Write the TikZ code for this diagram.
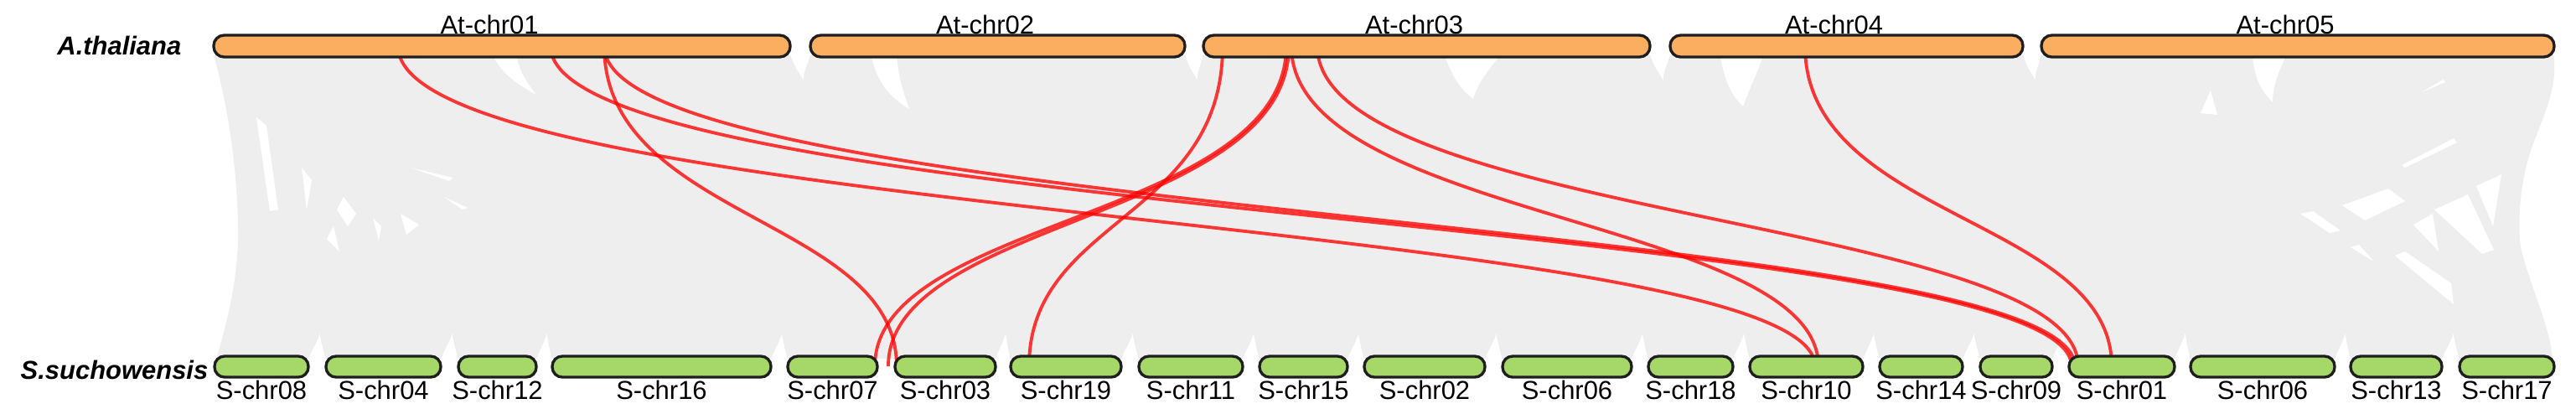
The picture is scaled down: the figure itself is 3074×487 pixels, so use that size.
\documentclass[tikz,border=0pt]{standalone}
\usepackage{fontspec}
\setmainfont{Liberation Sans}
\usetikzlibrary{calc}
\definecolor{bggray}{RGB}{238,238,238}
\definecolor{atorange}{RGB}{252,174,96}
\definecolor{sgreen}{RGB}{165,216,104}
\definecolor{barline}{RGB}{30,30,30}
\definecolor{linkred}{RGB}{255,0,0}
\newcommand\chrbar[5]{%
  \pgfmathsetmacro\chrcx{(#2+#3)/2}%
  \pgfmathsetmacro\chrcw{(#3-#2)*0.01}%
  \node[#5, minimum width=\chrcw cm] (#1) at (\chrcx,#4) {};}
\newcommand\toplabel[2]{\node[chrlabel] (#1l) at ($(#1.north)+(-15,0)$) {#2};}
\newcommand\botlabel[2]{\node[chrlabel] (#1l) at ($(#1.south)+(0,25)$) {#2};}
\newcommand\synlink[2]{\draw[link] (#1) .. controls ($(#1)+(0,206)$) and ($(#2)+(0,-176)$) .. (#2);}
\newcommand\topgap[2]{\fill[gapwhite] (#1,64) .. controls (#1+4,80) and ({(#1+#2)/2},88) .. ({(#1+#2)/2+4},96) .. controls ({(#1+#2)/2+3},85) and (#2-3,78) .. (#2,64) -- cycle;}
\newcommand\botgap[2]{\fill[gapwhite] (#1,430) .. controls (#1+3,418) and ({(#1+#2)/2},410) .. ({(#1+#2)/2+3},398) .. controls ({(#1+#2)/2+5},410) and (#2-3,418) .. (#2,430) -- cycle;}
\begin{document}
\begin{tikzpicture}[x=0.01cm,y=-0.01cm,
  atbar/.style={draw=barline, line width=0.95pt, fill=atorange, rounded corners=0.125cm, minimum height=0.26cm, inner sep=0pt},
  sbar/.style={draw=barline, line width=0.95pt, fill=sgreen, rounded corners=0.12cm, minimum height=0.25cm, inner sep=0pt},
  chrlabel/.style={font=\fontsize{8.8}{10}\selectfont, inner sep=0pt, anchor=base},
  species/.style={font=\fontsize{8.8}{10}\selectfont\bfseries\itshape, inner sep=0pt, anchor=base east},
  link/.style={draw=linkred, line width=1.1pt, opacity=0.78},
  gapwhite/.style={fill=white, draw=none},
]
\useasboundingbox (0,0) rectangle (3074,487);

% grey background of all collinear links
\fill[bggray] (255,66) -- (3048,66) -- (3048,90) .. controls (3044,125) and (3030,150) .. (3020,180)
  .. controls (3008,215) and (3004,260) .. (3008,295) .. controls (3020,345) and (3042,385) .. (3046,428)
  -- (258,428) .. controls (276,370) and (284,320) .. (284,280) .. controls (284,220) and (276,140) .. (255,66) -- cycle;

% white slivers between grey links
\topgap{943}{967}
\topgap{1414}{1436}
\topgap{1969}{1993}
\topgap{2414}{2436}
\botgap{368}{389}
\botgap{526}{547}
\botgap{640}{659}
\botgap{920}{940}
\botgap{1188}{1206}
\botgap{1338}{1359}
\botgap{1483}{1503}
\botgap{1608}{1628}
\botgap{1772}{1793}
\botgap{1947}{1967}
\botgap{2068}{2088}
\botgap{2223}{2243}
\botgap{2342}{2363}
\botgap{2449}{2469}
\botgap{2595}{2614}
\botgap{2786}{2805}
\botgap{2914}{2935}
\fill[gapwhite] (588,66) .. controls (600,90) and (620,102) .. (640,113) .. controls (628,98) and (620,85) .. (616,66) -- cycle;
\fill[gapwhite] (1040,66) .. controls (1046,100) and (1065,118) .. (1085,130) .. controls (1076,105) and (1072,90) .. (1070,66) -- cycle;
\fill[gapwhite] (1724,66) .. controls (1734,95) and (1745,108) .. (1758,118) .. controls (1764,98) and (1775,85) .. (1790,66) -- cycle;
\fill[gapwhite] (2053,66) .. controls (2058,100) and (2068,115) .. (2080,127) .. controls (2090,100) and (2098,85) .. (2104,66) -- cycle;
\fill[gapwhite] (2688,66) .. controls (2690,95) and (2700,110) .. (2712,122) .. controls (2712,100) and (2720,85) .. (2728,66) -- cycle;
\fill[gapwhite] (2626,135) -- (2638,108) -- (2646,137) -- cycle;
\fill[gapwhite] (306,140) -- (318,150) -- (332,250) -- (322,252) -- cycle;
\fill[gapwhite] (360,200) -- (372,215) -- (366,250) -- cycle;
\fill[gapwhite] (410,235) -- (425,255) -- (415,270) -- (402,250) -- cycle;
\fill[gapwhite] (478,255) -- (500,268) -- (485,280) -- cycle;
\fill[gapwhite] (390,285) -- (398,270) -- (405,300) -- cycle;
\fill[gapwhite] (445,260) -- (455,270) -- (452,287) -- cycle;
\fill[gapwhite] (490,200) -- (540,212) -- (536,216) -- cycle;
\fill[gapwhite] (530,235) -- (558,248) -- (552,250) -- cycle;
\fill[gapwhite] (2795,245) -- (2850,225) -- (2870,240) -- (2822,263) -- cycle;
\fill[gapwhite] (2880,268) -- (2903,255) -- (2910,300) -- cycle;
\fill[gapwhite] (2905,250) -- (2945,232) -- (2976,298) -- (2962,303) -- cycle;
\fill[gapwhite] (2858,305) -- (2870,300) -- (2925,338) -- (2928,363) -- cycle;
\fill[gapwhite] (2955,222) -- (2985,208) -- (2975,270) -- cycle;
\fill[gapwhite] (2866,197) -- (2928,165) -- (2932,170) -- (2870,200) -- cycle;
\fill[gapwhite] (2745,255) -- (2760,252) -- (2793,275) -- (2780,278) -- cycle;
\fill[gapwhite] (2805,295) -- (2815,292) -- (2833,312) -- cycle;
\fill[gapwhite] (2890,110) -- (2915,95) -- (2918,98) -- cycle;

% link end points
\coordinate (tA1a) at (475,55);
\coordinate (tA1b) at (657,55);
\coordinate (tA1c) at (721,55);
\coordinate (tA3a) at (1459,55);
\coordinate (tA3b) at (1535,55);
\coordinate (tA3c) at (1538,55);
\coordinate (tA3d) at (1541,55);
\coordinate (tA3e) at (1572,55);
\coordinate (tA4a) at (2154,55);
\coordinate (bS07a) at (1044,437);
\coordinate (bS07b) at (1060,437);
\coordinate (bS03a) at (1070,437);
\coordinate (bS19a) at (1228,437);
\coordinate (bS10a) at (2166,437);
\coordinate (bS10b) at (2170,437);
\coordinate (bS01a) at (2472,437);
\coordinate (bS01b) at (2476,437);
\coordinate (bS01c) at (2480,437);
\coordinate (bS01d) at (2520,437);

% red links
\synlink{tA1a}{bS10a}
\synlink{tA1b}{bS01a}
\synlink{tA1c}{bS01b}
\synlink{tA1c}{bS03a}
\synlink{tA3a}{bS19a}
\synlink{tA3b}{bS07a}
\synlink{tA3c}{bS07b}
\synlink{tA3d}{bS10b}
\synlink{tA3e}{bS01c}
\synlink{tA4a}{bS01d}

% chromosomes of A. thaliana
\chrbar{A1}{255}{943}{55}{atbar}
\chrbar{A2}{967}{1414}{55}{atbar}
\chrbar{A3}{1436}{1969}{55}{atbar}
\chrbar{A4}{1993}{2414}{55}{atbar}
\chrbar{A5}{2436}{3048}{55}{atbar}
\toplabel{A1}{At-chr01}
\toplabel{A2}{At-chr02}
\toplabel{A3}{At-chr03}
\toplabel{A4}{At-chr04}
\toplabel{A5}{At-chr05}

% chromosomes of S. suchowensis
\chrbar{S08}{256}{368}{437.5}{sbar}
\chrbar{S04}{389}{526}{437.5}{sbar}
\chrbar{S12}{547}{640}{437.5}{sbar}
\chrbar{S16}{659}{920}{437.5}{sbar}
\chrbar{S07}{940}{1047}{437.5}{sbar}
\chrbar{S03}{1068}{1188}{437.5}{sbar}
\chrbar{S19}{1206}{1338}{437.5}{sbar}
\chrbar{S11}{1359}{1483}{437.5}{sbar}
\chrbar{S15}{1503}{1608}{437.5}{sbar}
\chrbar{S02}{1628}{1772}{437.5}{sbar}
\chrbar{S06a}{1793}{1947}{437.5}{sbar}
\chrbar{S18}{1967}{2068}{437.5}{sbar}
\chrbar{S10}{2088}{2223}{437.5}{sbar}
\chrbar{S14}{2243}{2342}{437.5}{sbar}
\chrbar{S09}{2363}{2449}{437.5}{sbar}
\chrbar{S01}{2469}{2595}{437.5}{sbar}
\chrbar{S06b}{2614}{2786}{437.5}{sbar}
\chrbar{S13}{2805}{2914}{437.5}{sbar}
\chrbar{S17}{2935}{3048}{437.5}{sbar}
\botlabel{S08}{S-chr08}
\botlabel{S04}{S-chr04}
\botlabel{S12}{S-chr12}
\botlabel{S16}{S-chr16}
\botlabel{S07}{S-chr07}
\botlabel{S03}{S-chr03}
\botlabel{S19}{S-chr19}
\botlabel{S11}{S-chr11}
\botlabel{S15}{S-chr15}
\botlabel{S02}{S-chr02}
\botlabel{S06a}{S-chr06}
\botlabel{S18}{S-chr18}
\botlabel{S10}{S-chr10}
\botlabel{S14}{S-chr14}
\botlabel{S09}{S-chr09}
\botlabel{S01}{S-chr01}
\botlabel{S06b}{S-chr06}
\botlabel{S13}{S-chr13}
\botlabel{S17}{S-chr17}

% species names
\node[species] (ath) at (217,65) {A.thaliana};
\node[species] (ssu) at (249,452) {S.suchowensis};
\end{tikzpicture}
\end{document}
